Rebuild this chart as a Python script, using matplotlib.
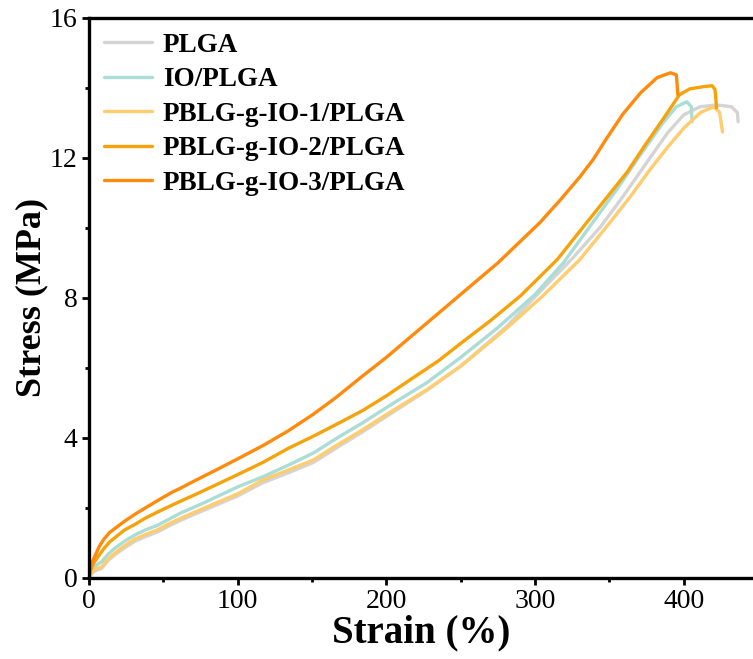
import matplotlib
matplotlib.use('Agg')
import matplotlib.pyplot as plt
from matplotlib.ticker import MultipleLocator

plt.rcParams['font.family'] = ['Liberation Serif', 'DejaVu Serif']

labels = ['PLGA', 'IO/PLGA', 'PBLG-g-IO-1/PLGA', 'PBLG-g-IO-2/PLGA', 'PBLG-g-IO-3/PLGA']
colors = ['#d4d4d4', '#a9ddd6', '#ffcc6e', '#f6a20a', '#ff8a0c']

# strain (%) and stress (MPa)
plga_x = [0, 1, 3, 5, 8.5, 13, 17.5, 24, 31, 38, 46, 54, 62, 75, 90, 100, 117, 134, 151, 167, 184,
          205, 227, 250, 280, 305, 326, 344, 359, 375, 389, 400, 411, 422, 432, 436, 436.5]
plga_y = [0, 0.08, 0.17, 0.22, 0.27, 0.5, 0.66, 0.86, 1.05, 1.18, 1.31, 1.49, 1.65, 1.89, 2.16, 2.34,
          2.72, 3.0, 3.3, 3.73, 4.17, 4.75, 5.35, 6.05, 7.15, 8.25, 9.17, 10.03, 10.89, 11.86, 12.71,
          13.23, 13.46, 13.51, 13.46, 13.29, 13.03]

io_x = [0, 1, 3, 5, 8.5, 13, 17.5, 24, 31, 38, 46, 54, 62, 75, 90, 100, 117, 134, 151, 167, 184,
        205, 227, 250, 275, 300, 319, 337, 355, 371, 386, 395, 402, 405, 405.5]
io_y = [0, 0.15, 0.28, 0.36, 0.46, 0.68, 0.85, 1.05, 1.23, 1.37, 1.5, 1.68, 1.86, 2.1, 2.4, 2.6,
        2.89, 3.22, 3.57, 4.0, 4.43, 5.0, 5.57, 6.3, 7.15, 8.1, 9.0, 10.05, 11.1, 12.1, 13.0,
        13.46, 13.6, 13.46, 13.03]

io1_x = [0, 1, 3, 5, 8.5, 13, 17.5, 24, 31, 38, 46, 54, 62, 75, 90, 100, 117, 134, 151, 167, 184,
         205, 227, 250, 280, 305, 330, 348, 364, 377, 389, 400, 411, 420, 424, 426]
io1_y = [0, 0.1, 0.2, 0.26, 0.31, 0.55, 0.71, 0.92, 1.11, 1.24, 1.37, 1.55, 1.71, 1.95, 2.22, 2.4,
         2.8, 3.08, 3.37, 3.8, 4.23, 4.8, 5.37, 6.05, 7.1, 8.05, 9.09, 10.03, 10.89, 11.65, 12.3,
         12.85, 13.29, 13.46, 13.3, 12.74]

io2_x = [0, 1, 3, 6, 10, 14, 19, 24, 31, 38, 48, 60, 75, 90, 100, 117, 134, 151, 167, 184, 200,
         216, 235, 250, 270, 290, 315, 330, 346, 362, 375, 389, 397, 404, 413, 419, 421, 422]
io2_y = [0, 0.2, 0.4, 0.6, 0.83, 1.03, 1.2, 1.37, 1.53, 1.71, 1.92, 2.16, 2.45, 2.75, 2.95, 3.3,
         3.7, 4.05, 4.4, 4.78, 5.2, 5.66, 6.2, 6.7, 7.35, 8.05, 9.1, 9.9, 10.75, 11.6, 12.43,
         13.29, 13.8, 13.97, 14.03, 14.06, 13.95, 13.43]

io3_x = [0, 1, 2, 4, 7, 10, 14, 19, 24, 31, 38, 47, 56, 61, 70, 84, 100, 117, 134, 151, 166, 182,
         200, 225, 250, 275, 303, 317, 330, 339, 348, 359, 371, 382, 391, 395, 396]
io3_y = [0, 0.25, 0.42, 0.62, 0.9, 1.1, 1.3, 1.46, 1.62, 1.82, 2.0, 2.23, 2.45, 2.55, 2.75, 3.05,
         3.4, 3.78, 4.2, 4.68, 5.15, 5.7, 6.3, 7.2, 8.1, 9.0, 10.14, 10.8, 11.45, 11.95, 12.55, 13.25,
         13.86, 14.29, 14.43, 14.37, 13.8]

xs = [plga_x, io_x, io1_x, io2_x, io3_x]
ys = [plga_y, io_y, io1_y, io2_y, io3_y]

fig = plt.figure(figsize=(7.53, 6.59), dpi=100)
ax = fig.add_axes([0.118, 0.123, 0.882, 0.850])

for x, y, c, lab in zip(xs, ys, colors, labels):
    ax.plot(x, y, color=c, lw=2.4, label=lab, solid_joinstyle='round', solid_capstyle='round')

ax.set_xlim(0, 446.5)
ax.set_ylim(0, 16)
ax.xaxis.set_major_locator(MultipleLocator(100))
ax.xaxis.set_minor_locator(MultipleLocator(50))
ax.yaxis.set_major_locator(MultipleLocator(4))
ax.yaxis.set_minor_locator(MultipleLocator(2))
ax.spines['right'].set_visible(False)
for s in ['left', 'bottom', 'top']:
    ax.spines[s].set_linewidth(2.4)
ax.tick_params(which='major', direction='out', length=5, width=2, labelsize=20, pad=3)
ax.tick_params(which='minor', direction='out', length=3, width=2)
ax.tick_params(top=False, which='both')

ax.set_xlabel('Strain (%)', fontsize=28, fontweight='bold', labelpad=0)
ax.set_ylabel('Stress (MPa)', fontsize=26, fontweight='bold', labelpad=1)

leg = ax.legend(loc='upper left', bbox_to_anchor=(0.0, 1.0), frameon=False,
                prop={'size': 19.5, 'weight': 'bold'}, handlelength=1.78,
                handletextpad=0.4, labelspacing=0.35, borderpad=0.2, borderaxespad=0.35)

plt.savefig('out.png', dpi=100)
